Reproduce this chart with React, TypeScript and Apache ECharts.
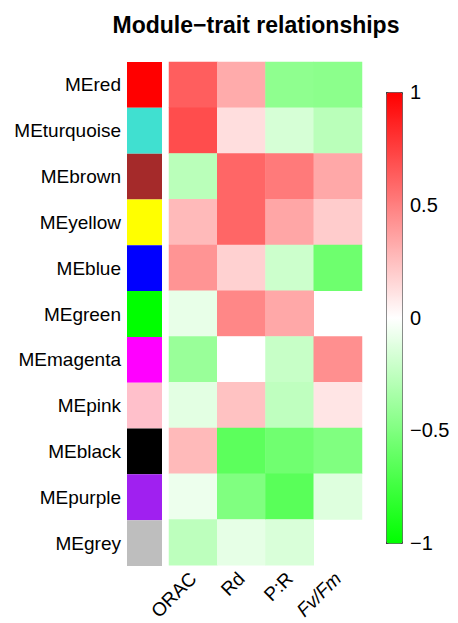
import React, { useEffect, useRef } from "react";
import * as echarts from "echarts";

const modules = ["MEred", "MEturquoise", "MEbrown", "MEyellow", "MEblue", "MEgreen", "MEmagenta", "MEpink", "MEblack", "MEpurple", "MEgrey"];
const moduleColors = ["#FF0000", "#40E0D0", "#A52A2A", "#FFFF00", "#0000FF", "#00FF00", "#FF00FF", "#FFC0CB", "#000000", "#A020F0", "#BEBEBE"];
const traits = ["ORAC", "Rd", "P:R", "Fv/Fm"];

const ORAC = [0.63, 0.7, -0.27, 0.27, 0.42, -0.09, -0.4, -0.11, 0.27, -0.07, -0.26];
const Rd = [0.33, 0.13, 0.6, 0.6, 0.18, 0.47, 0, 0.24, -0.64, -0.5, -0.1];
const PR = [-0.44, -0.16, 0.52, 0.35, -0.2, 0.34, -0.22, -0.25, -0.56, -0.65, -0.15];
const FvFm = [-0.45, -0.27, 0.34, 0.2, -0.57, null, 0.44, 0.1, -0.5, -0.13, null];

const colorbarTicks = { min: -1, max: 1, interval: 0.5 };

const FONT = "'Liberation Sans', Arial, sans-serif";

export default function App() {
  const ref = useRef<HTMLDivElement>(null);
  useEffect(() => {
    if (!ref.current) return;
    const chart = echarts.init(ref.current, undefined, { renderer: "svg" });
    const cols = [ORAC, Rd, PR, FvFm];
    const heat: any[] = [];
    cols.forEach((arr, xi) => {
      arr.forEach((v, yi) => {
        if (v !== null) heat.push([xi, yi, v]);
      });
    });
    chart.setOption({
      animation: false,
      backgroundColor: "#FFFFFF",
      textStyle: { fontFamily: FONT },
      title: {
        text: "Module\u2212trait relationships",
        left: 251,
        textAlign: "center",
        top: 8,
        textStyle: { fontSize: 23, fontWeight: "bold", color: "#000", fontFamily: FONT },
      },
      grid: [
        { left: 127, width: 35, top: 62, height: 504 },
        { left: 169, width: 193, top: 62, height: 504 },
        { left: 386, width: 16, top: 92, height: 451 },
      ],
      xAxis: [
        { gridIndex: 0, type: "value", min: 0, max: 1, show: false },
        {
          gridIndex: 1,
          type: "category",
          data: traits,
          position: "bottom",
          axisLine: { show: false },
          axisTick: { show: false },
          splitLine: { show: false },
          axisLabel: {
            rotate: 45,
            fontSize: 19,
            color: "#000",
            margin: 10,
            fontFamily: FONT,
            formatter: (v: string) => (v === "Fv/Fm" ? "{it|Fv/Fm}" : v),
            rich: { it: { fontStyle: "italic", fontSize: 19, color: "#000", fontFamily: FONT } },
          },
        },
        { gridIndex: 2, type: "value", min: 0, max: 1, show: false },
      ],
      yAxis: [
        {
          gridIndex: 0,
          type: "category",
          data: modules,
          inverse: true,
          axisLine: { show: false },
          axisTick: { show: false },
          splitLine: { show: false },
          axisLabel: { fontSize: 19, color: "#000", margin: 6, fontFamily: FONT },
        },
        {
          gridIndex: 1,
          type: "category",
          data: modules,
          inverse: true,
          show: false,
        },
        {
          gridIndex: 2,
          type: "value",
          min: colorbarTicks.min,
          max: colorbarTicks.max,
          interval: colorbarTicks.interval,
          position: "right",
          axisLine: { show: false },
          axisTick: { show: true, length: 5, lineStyle: { color: "#333" } },
          splitLine: { show: false },
          axisLabel: {
            fontSize: 20,
            color: "#000",
            margin: 8,
            fontFamily: FONT,
            formatter: (v: number) => String(v).replace("-", "\u2212"),
          },
        },
      ],
      visualMap: {
        type: "continuous",
        min: -1,
        max: 1,
        seriesIndex: 1,
        orient: "vertical",
        left: 386,
        top: 92,
        itemWidth: 16,
        itemHeight: 451,
        padding: 0,
        calculable: false,
        hoverLink: false,
        borderColor: "#444",
        borderWidth: 1,
        inRange: { color: ["#00FF00", "#FFFFFF", "#FF0000"] },
      },
      series: [
        {
          type: "bar",
          xAxisIndex: 0,
          yAxisIndex: 0,
          barWidth: "100%",
          barCategoryGap: 0,
          data: moduleColors.map((c) => ({ value: 1, itemStyle: { color: c } })),
          silent: true,
        },
        {
          type: "heatmap",
          xAxisIndex: 1,
          yAxisIndex: 1,
          data: heat,
          itemStyle: { borderWidth: 0 },
          silent: true,
        },
      ],
    });
    return () => chart.dispose();
  }, []);
  return (
    <div
      ref={ref}
      style={{ position: "absolute", left: 0, top: 0, width: 458, height: 623 }}
    />
  );
}
